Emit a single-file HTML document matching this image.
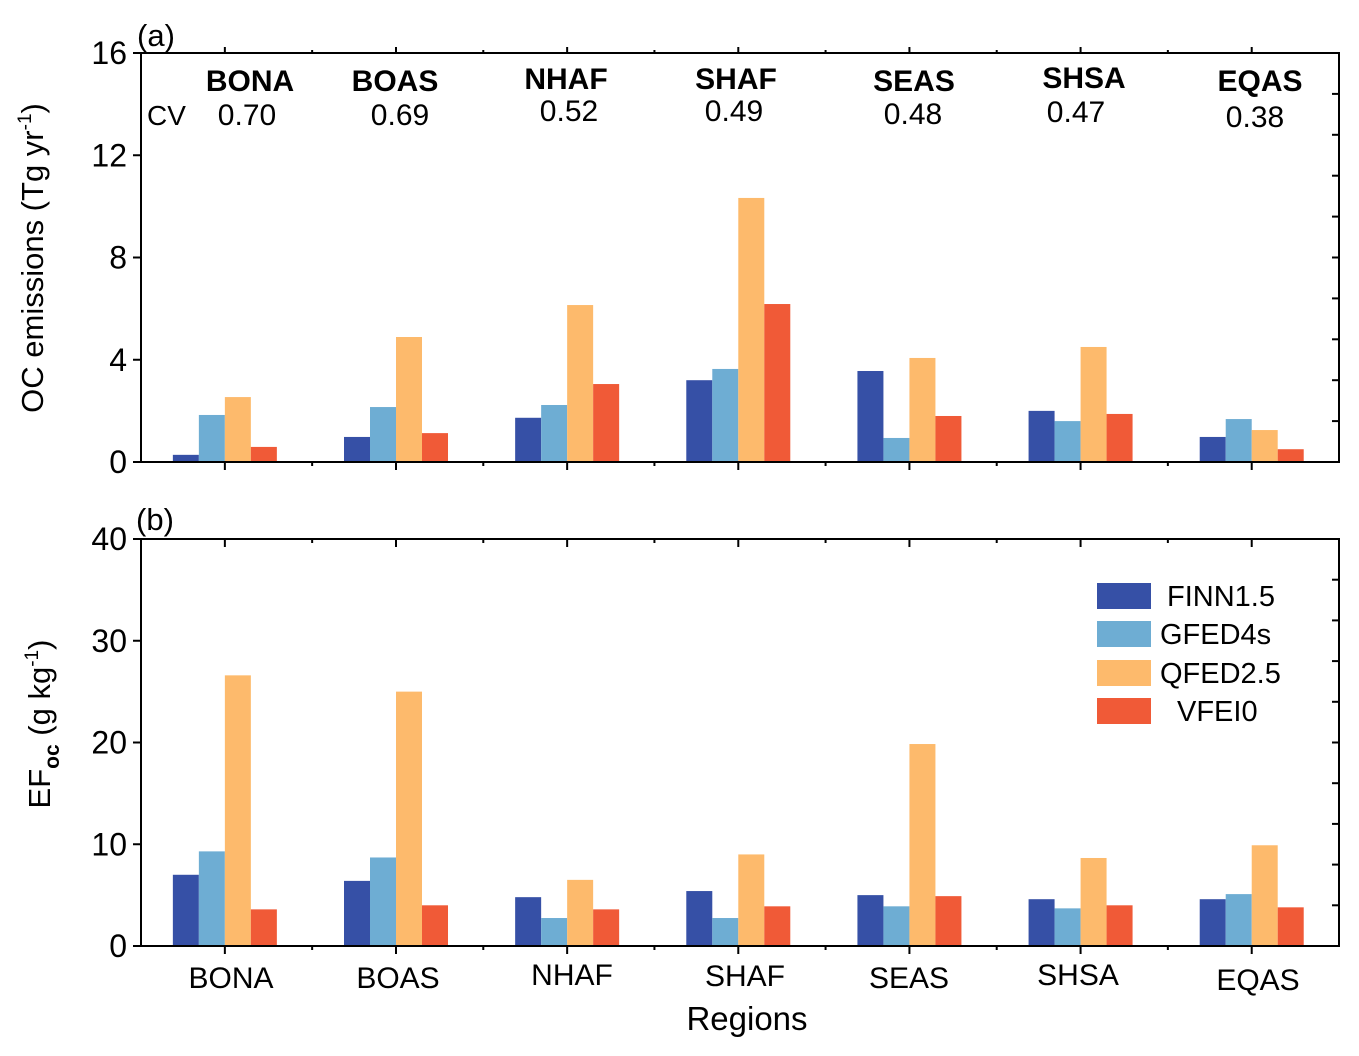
<!DOCTYPE html>
<html><head><meta charset="utf-8"><style>
body{margin:0;background:#fff}
svg{display:block;font-family:"Liberation Sans",Arial,sans-serif}
</style></head><body>
<svg id="c" width="1359" height="1056" viewBox="0 0 1359 1056"></svg>
<script>
const regions=["BONA","BOAS","NHAF","SHAF","SEAS","SHSA","EQAS"];
const cvValues=["0.70","0.69","0.52","0.49","0.48","0.47","0.38"];
const seriesNames=["FINN1.5","GFED4s","QFED2.5","VFEI0"];
const colors=["#3650a6","#6eadd3","#fdba6c","#f05a37"];
const emisFINN=[0.28,0.98,1.73,3.2,3.56,2.0,0.98];
const emisGFED=[1.84,2.15,2.23,3.64,0.94,1.6,1.68];
const emisQFED=[2.54,4.89,6.14,10.33,4.07,4.5,1.25];
const emisVFEI=[0.59,1.13,3.05,6.18,1.8,1.88,0.5];
const efFINN=[7.0,6.4,4.8,5.4,5.0,4.6,4.6];
const efGFED=[9.3,8.7,2.75,2.75,3.9,3.7,5.1];
const efQFED=[26.6,25.0,6.5,9.0,19.85,8.65,9.9];
const efVFEI=[3.6,4.0,3.6,3.9,4.9,4.0,3.8];
const ticksA=[0,4,8,12,16];
const ticksB=[0,10,20,30,40];

const svg=document.getElementById('c');
const NS="http://www.w3.org/2000/svg";
function mk(tag,attrs,parent){const e=document.createElementNS(NS,tag);for(const k in attrs)e.setAttribute(k,attrs[k]);(parent||svg).appendChild(e);return e;}
const X0=141,X1=1339,groupW=(X1-X0)/7,barW=26;
function xc(i){return X0+groupW*(i+0.49);}

function panel(p){
  const g=mk('g',{});
  
  
  const y=v=>p.bot-(v/p.max)*(p.bot-p.top);
  const data=p.series;
  for(let i=0;i<regions.length;i++){
    for(let s=0;s<4;s++){
      const v=data[s][i];
      const r=mk('rect',{x:xc(i)-2*barW+s*barW,y:y(v),width:barW,height:p.bot-y(v),fill:colors[s]},g);
      
      
    }
  }
  mk('rect',{x:X0,y:p.top,width:X1-X0,height:p.bot-p.top,fill:'none',stroke:'#000','stroke-width':2},g);
  for(let i=0;i<7;i++){
    const x=xc(i);
    mk('line',{x1:x,x2:x,y1:p.bot,y2:p.bot+8,stroke:'#000','stroke-width':2},g);
    mk('line',{x1:x,x2:x,y1:p.top,y2:p.top+(p.topIn?8:-6),stroke:'#000','stroke-width':2},g);
    const m=X0+groupW*(i+1);
    if(i<6){
      mk('line',{x1:m,x2:m,y1:p.bot,y2:p.bot+4,stroke:'#000','stroke-width':2},g);
      mk('line',{x1:m,x2:m,y1:p.top,y2:p.top+(p.topIn?4:-3),stroke:'#000','stroke-width':2},g);
    }
  }
  for(let k=1;k<10;k++){const yy=p.top+(p.bot-p.top)*k/10;mk('line',{x1:X1,x2:X1-7,y1:yy,y2:yy,stroke:'#000','stroke-width':2},g);}
  p.ticks.forEach(t=>{
    mk('line',{x1:X0,x2:X0-8,y1:y(t),y2:y(t),stroke:'#000','stroke-width':2},g);
    const tx=mk('text',{x:X0-14,y:y(t)+11,'text-anchor':'end','font-size':32},g);tx.textContent=t;
    
    
  });
  return y;
}
panel({name:'panel-a',top:53,bot:462,max:16,ticks:ticksA,series:[emisFINN,emisGFED,emisQFED,emisVFEI],topIn:false});
panel({name:'panel-b',top:539,bot:946,max:40,ticks:ticksB,series:[efFINN,efGFED,efQFED,efVFEI],topIn:true});

function txt(s,a,name){const t=mk('text',a);t.textContent=s;return t;}
txt('(a)',{x:137,y:46,'font-size':31},'panel-a-label');
txt('(b)',{x:136,y:530,'font-size':31},'panel-b-label');
txt('CV',{x:147,y:125,'font-size':28},'cv-label');
const hdrX=[250,395,566,736,914,1084,1260],hdrY=[91,91,89,89,91,88,91];
const cvX=[247,400,569,734,913,1076,1255],cvY=[125,125,121,121,124,122,127];
const lblX=[231,398,572,745,909,1078,1258],lblY=[988,988,985,986,988,985,990];
regions.forEach((r,i)=>{
  txt(r,{x:hdrX[i],y:hdrY[i],'font-size':30,'font-weight':'bold','text-anchor':'middle'},'region-header-'+r.toLowerCase());
  txt(cvValues[i],{x:cvX[i],y:cvY[i],'font-size':30,'text-anchor':'middle'},'cv-value-'+r.toLowerCase());
  txt(r,{x:lblX[i],y:lblY[i],'font-size':30,'text-anchor':'middle'},'x-tick-label-'+r.toLowerCase());
});
txt('Regions',{x:747,y:1030,'font-size':33,'text-anchor':'middle'},'x-axis-title');
const ta=txt('',{transform:'translate(43,258) rotate(-90)','font-size':31,'text-anchor':'middle'},'y-axis-title-a');
ta.innerHTML='OC emissions (Tg yr<tspan dy="-12" font-size="19">-1</tspan><tspan dy="12">)</tspan>';
const tb=txt('',{transform:'translate(50,724) rotate(-90)','font-size':31,'text-anchor':'middle'},'y-axis-title-b');
tb.innerHTML='EF<tspan dy="9" font-size="21" font-weight="bold">oc</tspan><tspan dy="-9"> (g kg</tspan><tspan dy="-12" font-size="19">-1</tspan><tspan dy="12">)</tspan>';
const legY=[596,634,673,711],legX=[1167,1160,1160,1177];
seriesNames.forEach((s,i)=>{
  const r=mk('rect',{x:1097,y:legY[i]-13,width:54,height:26,fill:colors[i]});
  
  
  txt(s,{x:legX[i],y:legY[i]+10,'font-size':29},'legend-entry-'+s.toLowerCase());
});
</script>
</body></html>
